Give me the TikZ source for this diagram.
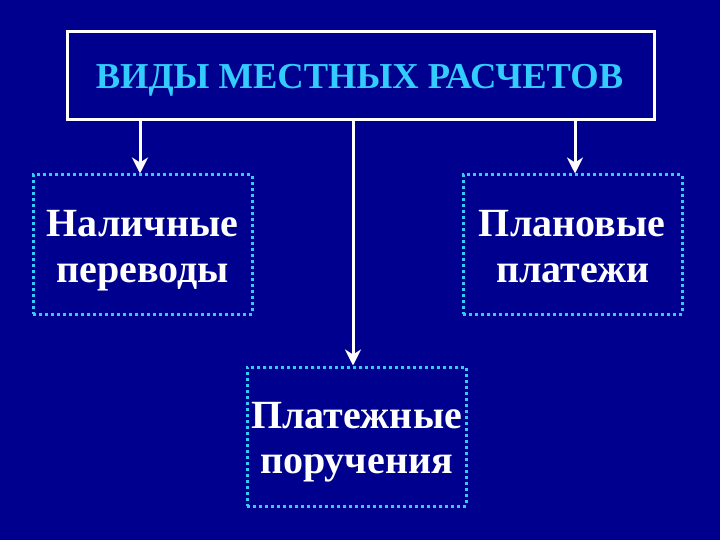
\documentclass[tikz,border=0pt]{standalone}
\usepackage{fontspec}
\setmainfont{Liberation Serif}
\usetikzlibrary{arrows.meta}
\definecolor{bg}{HTML}{00008E}
\definecolor{cyanb}{HTML}{33CCFF}
\begin{document}
\begin{tikzpicture}[x=1pt,y=-1pt,
  dotbox/.style={draw=cyanb,line width=3pt,dash pattern=on 3pt off 3pt,minimum width=219pt,minimum height=139pt,inner sep=0pt},
  btxt/.style={anchor=base,text=white,font=\bfseries\fontsize{40}{45}\selectfont,inner sep=0pt},
  conn/.style={draw=white,line width=3pt,-{Stealth[length=16pt,width=16pt,inset=5pt]}}]
\fill[bg] (0,0) rectangle (720,540);
\useasboundingbox (0,0) rectangle (720,540);
\node[draw=white,line width=3pt,minimum width=587pt,minimum height=88pt,inner sep=0pt] (top) at (360.5,76) {};
\node[anchor=base,inner sep=0pt,text=cyanb,font=\bfseries\fontsize{36.5}{40}\selectfont] (title) at (359.5,89) {ВИДЫ МЕСТНЫХ РАСЧЕТОВ};
\node[dotbox] (l) at (142.5,244.5) {};
\node[dotbox] (r) at (572.5,244.5) {};
\node[dotbox] (b) at (356.5,436.5) {};
\node[btxt] (l1) at (142.5,236.5) {Наличные};
\node[btxt] (l2) at (142.5,282) {переводы};
\node[btxt] (r1) at (572,236.5) {Плановые};
\node[btxt] (r2) at (573,282) {платежи};
\node[btxt] (b1) at (356.5,428) {Платежные};
\node[btxt] (b2) at (356.5,473) {поручения};
\draw[conn] (top.south -| 140,0) -- (l.north -| 140,0);
\draw[conn] (top.south -| 575,0) -- (r.north -| 575,0);
\draw[conn] (top.south -| 353,0) -- (b.north -| 353,0);
\end{tikzpicture}
\end{document}
